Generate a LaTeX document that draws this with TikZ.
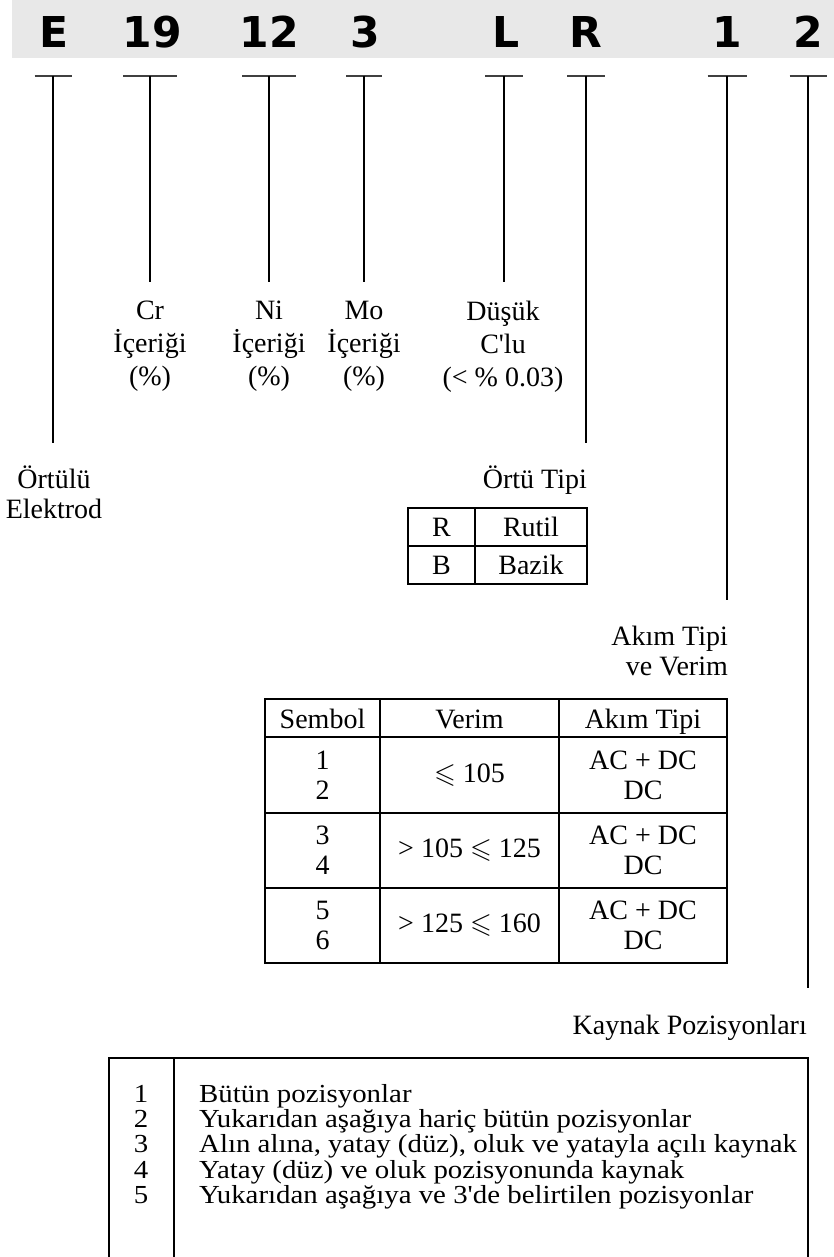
\documentclass[tikz,border=0pt]{standalone}
\usepackage{fontspec}
\usepackage{amssymb}
\setmainfont[Ligatures=TeXOff]{Liberation Serif}
\newfontfamily\codefont{DejaVu Sans}
\newfontfamily\listfont[Ligatures=TeXOff, FakeStretch=1.11]{Liberation Serif}
\usepackage{tikz}
\usetikzlibrary{positioning}
\tikzstyle{code} = [font=\codefont\bfseries\fontsize{42.5}{43}\selectfont, anchor=base, inner sep=0]
\tikzstyle{tbar} = [line width=2.4pt, draw=black!75]
\tikzstyle{lead} = [line width=1.2pt]
\tikzstyle{desc} = [font=\fontsize{28}{30}\selectfont, align=center, anchor=north, inner sep=0]
\tikzstyle{desctop} = [desc, font=\fontsize{28}{33}\selectfont]
\tikzstyle{cell} = [rectangle, draw=black, line width=1.8pt, outer sep=0, inner sep=0, align=center, font=\fontsize{28}{30}\selectfont]
\tikzstyle{head} = [cell, minimum height=38pt, text height=22pt, text depth=1pt]
\tikzstyle{frame} = [line width=1.8pt]
\tikzstyle{item} = [font=\listfont\fontsize{26}{26}\selectfont, inner sep=0, anchor=base]

\begin{document}
\begin{tikzpicture}[x=1pt, y=-1pt]
    \useasboundingbox (0,0) rectangle (834,1257);

    % Designation band
    \fill[black!9] (12,0) rectangle (834,58);
    \node[code] (cE) at (54.5,48) {E};
    \node[code] (c19) at (152,48) {19};
    \node[code] (c12) at (269,48) {12};
    \node[code] (c3) at (365,48) {3};
    \node[code] (cL) at (506,48) {L};
    \node[code] (cR) at (586,48) {R};
    \node[code] (c1) at (727,48) {1};
    \node[code] (c2) at (808,48) {2};

    % T marks under each symbol
    \coordinate (tE) at (53,76);
    \coordinate (t19) at (150,76);
    \coordinate (t12) at (269,76);
    \coordinate (t3) at (364,76);
    \coordinate (tL) at (504,76);
    \coordinate (tR) at (586,76);
    \coordinate (t1) at (727,76);
    \coordinate (t2) at (808,76);
    \draw[tbar] ([xshift=-18.5pt]tE) -- ([xshift=18.5pt]tE);
    \draw[tbar] ([xshift=-27pt]t19) -- ([xshift=27pt]t19);
    \draw[tbar] ([xshift=-27pt]t12) -- ([xshift=27pt]t12);
    \draw[tbar] ([xshift=-18pt]t3) -- ([xshift=18pt]t3);
    \draw[tbar] ([xshift=-19pt]tL) -- ([xshift=19pt]tL);
    \draw[tbar] ([xshift=-19pt]tR) -- ([xshift=19pt]tR);
    \draw[tbar] ([xshift=-19.5pt]t1) -- ([xshift=19.5pt]t1);
    \draw[tbar] ([xshift=-18.5pt]t2) -- ([xshift=18.5pt]t2);

    % Leader ends
    \coordinate (eE) at (53,443);
    \coordinate (e19) at (150,282);
    \coordinate (e12) at (269,282);
    \coordinate (e3) at (364,282);
    \coordinate (eL) at (504,282);
    \coordinate (eR) at (586,443);
    \coordinate (e1) at (727,600);
    \coordinate (e2) at (808,988);
    \draw[lead] (tE) -- (eE);
    \draw[lead] (t19) -- (e19);
    \draw[lead] (t12) -- (e12);
    \draw[lead] (t3) -- (e3);
    \draw[lead] (tL) -- (eL);
    \draw[lead] (tR) -- (eR);
    \draw[lead] (t1) -- (e1);
    \draw[lead] (t2) -- (e2);

    % Meanings
    \node[desctop] (l19) at (150,301) {Cr\\İçeriği\\(\%)};
    \node[desctop] (l12) at (269,301) {Ni\\İçeriği\\(\%)};
    \node[desctop] (l3) at (364,301) {Mo\\İçeriği\\(\%)};
    \node[desctop] (lL) at (503,301) {Düşük\\C'lu\\(< \% 0.03)};
    \node[desc] (lE) at (54,466) {Örtülü\\Elektrod};
    \node[desc, anchor=north east] (lR) at (587,466) {Örtü Tipi};
    \node[desc, anchor=north east, align=right] (l1) at (728,626) {Akım Tipi\\ve Verim};
    \node[desc, anchor=north east] (l2) at (807,1015) {Kaynak Pozisyonları};

    % Coating table
    \node[cell, minimum width=67pt, minimum height=38pt] (tbR) at (441.5,527) {R};
    \node[cell, minimum width=112pt, minimum height=38pt, right=0pt of tbR] (tbRu) {Rutil};
    \node[cell, minimum width=67pt, minimum height=38pt, below=0pt of tbR] (tbB) {B};
    \node[cell, minimum width=112pt, minimum height=38pt, right=0pt of tbB] (tbBa) {Bazik};

    % Current type and recovery table
    \node[head, minimum width=115pt] (hSym) at (322.5,718) {Sembol};
    \node[head, minimum width=179pt, right=0pt of hSym] (hVer) {Verim};
    \node[head, minimum width=168pt, right=0pt of hVer] (hAkm) {Akım Tipi};

    \node[cell, minimum width=115pt, minimum height=76pt, below=0pt of hSym] (s1) {1\\2};
    \node[cell, minimum width=179pt, minimum height=76pt, right=0pt of s1] (v1) {$\leqslant$ 105};
    \node[cell, minimum width=168pt, minimum height=76pt, right=0pt of v1] (a1) {AC + DC\\DC};

    \node[cell, minimum width=115pt, minimum height=75pt, below=0pt of s1] (s2) {3\\4};
    \node[cell, minimum width=179pt, minimum height=75pt, right=0pt of s2] (v2) {> 105 $\leqslant$ 125};
    \node[cell, minimum width=168pt, minimum height=75pt, right=0pt of v2] (a2) {AC + DC\\DC};

    \node[cell, minimum width=115pt, minimum height=75pt, below=0pt of s2] (s3) {5\\6};
    \node[cell, minimum width=179pt, minimum height=75pt, right=0pt of s3] (v3) {> 125 $\leqslant$ 160};
    \node[cell, minimum width=168pt, minimum height=75pt, right=0pt of v3] (a3) {AC + DC\\DC};

    % Welding positions list
    \draw[frame] (109,1257) |- (808,1058) -- (808,1257);
    \draw[frame] (174,1058) -- (174,1257);
    \node[item] (n1) at (141,1102) {1};
    \node[item] (n2) at (141,1127.3) {2};
    \node[item] (n3) at (141,1152.6) {3};
    \node[item] (n4) at (141,1178) {4};
    \node[item] (n5) at (141,1203.2) {5};
    \node[item, anchor=base west] (p1) at (199,1102) {Bütün pozisyonlar};
    \node[item, anchor=base west] (p2) at (199,1127.3) {Yukarıdan aşağıya hariç bütün pozisyonlar};
    \node[item, anchor=base west] (p3) at (199,1152.6) {Alın alına, yatay (düz), oluk ve yatayla açılı kaynak};
    \node[item, anchor=base west] (p4) at (199,1178) {Yatay (düz) ve oluk pozisyonunda kaynak};
    \node[item, anchor=base west] (p5) at (199,1203.2) {Yukarıdan aşağıya ve 3'de belirtilen pozisyonlar};

\end{tikzpicture}
\end{document}
